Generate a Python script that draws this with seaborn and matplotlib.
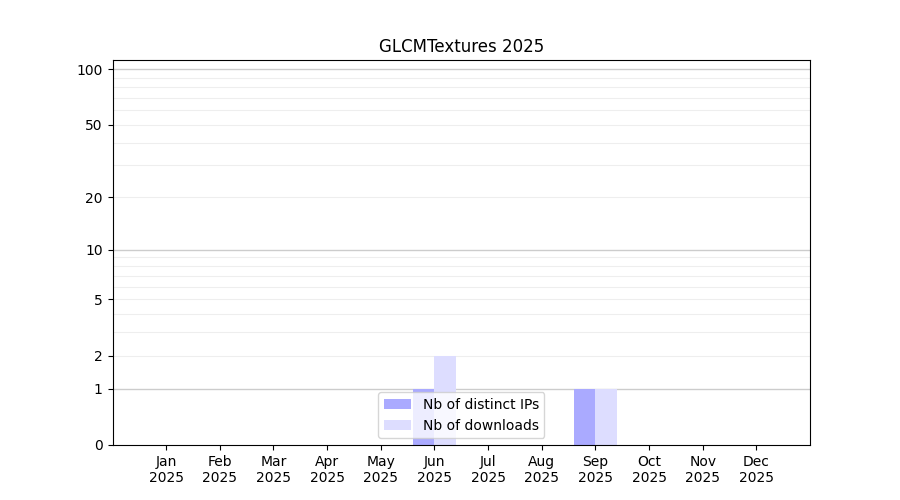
import numpy as np
import pandas as pd
import seaborn as sns
import matplotlib
matplotlib.use('Agg')
import matplotlib.pyplot as plt

months = ['Jan', 'Feb', 'Mar', 'Apr', 'May', 'Jun', 'Jul', 'Aug', 'Sep', 'Oct', 'Nov', 'Dec']
year = '2025'
distinct_ips = [0, 0, 0, 0, 0, 1, 0, 0, 1, 0, 0, 0]
downloads = [0, 0, 0, 0, 0, 2, 0, 0, 1, 0, 0, 0]
yticks = [0, 1, 2, 5, 10, 20, 50, 100]

df = pd.DataFrame({
    'month': months * 2,
    'value': distinct_ips + downloads,
    'kind': ['Nb of distinct IPs'] * 12 + ['Nb of downloads'] * 12,
})

fig, ax = plt.subplots(figsize=(9, 5), dpi=100)
sns.barplot(data=df, x='month', y='value', hue='kind', order=months,
            palette=['#aaaaff', '#ddddff'], errorbar=None, saturation=1,
            width=0.8, ax=ax)

ax.set_yscale('function', functions=(lambda v: np.log10(1 + np.maximum(v, 0)),
                                      lambda v: 10 ** v - 1))
ax.set_ylim(0, 112)
ax.set_xlim(-1, 12)

# light gridlines
for v in list(range(2, 10)) + list(range(20, 100, 10)):
    ax.axhline(v, color='#eeeeee', lw=0.8, zorder=0.5)
for v in [1, 10, 100]:
    ax.axhline(v, color='#cccccc', lw=1, zorder=0.5)

ax.set_yticks(yticks)
ax.set_yticklabels([str(t) for t in yticks])
ax.minorticks_off()
ax.set_xticks(range(12))
ax.set_xticklabels([m + '\n' + year for m in months])
ax.set_xlabel('')
ax.set_ylabel('')
ax.set_title('GLCMTextures 2025')
ax.legend(loc='lower center')

plt.savefig('out.png')
